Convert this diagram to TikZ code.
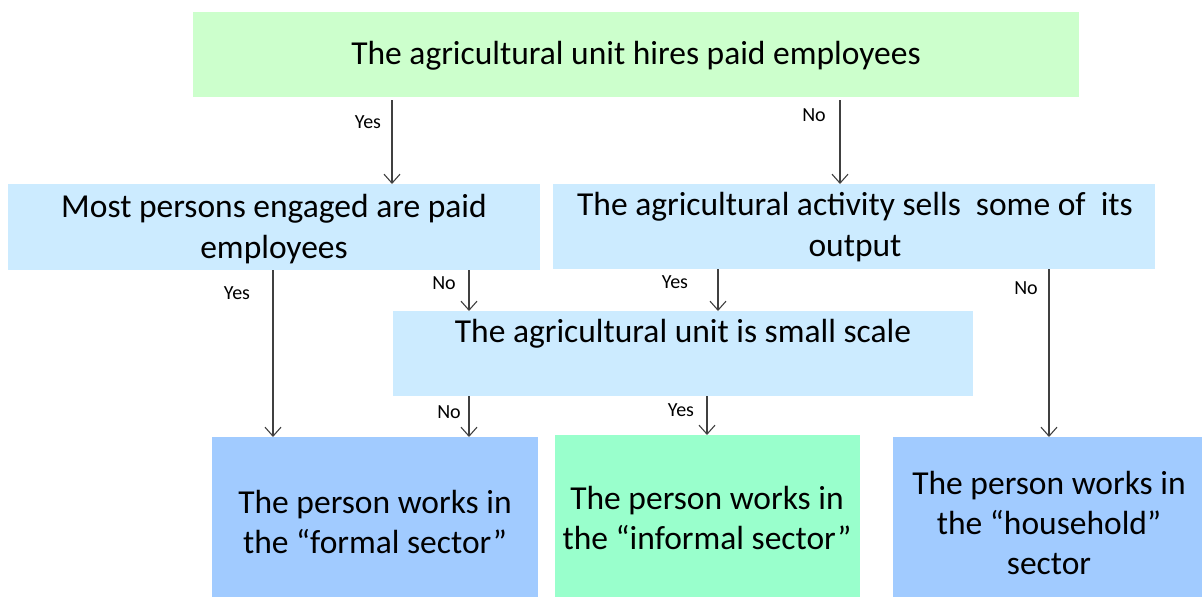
\documentclass[tikz,border=0pt]{standalone}
\usepackage{fontspec}
\setmainfont{Carlito}
\usetikzlibrary{arrows.meta}
\definecolor{topgreen}{HTML}{CCFFCC}
\definecolor{lblue}{HTML}{CCEBFF}
\definecolor{mblue}{HTML}{A1CBFF}
\definecolor{mint}{HTML}{99FFCC}
\definecolor{arrcol}{HTML}{404040}
\tikzset{
  boxbase/.style={rectangle, inner sep=0pt, anchor=north west, draw=none},
  maintext/.style={font=\fontsize{33.5}{40.3}\selectfont, align=center, inner sep=0pt},
  lbl/.style={font=\fontsize{20}{22}\selectfont, inner sep=0pt},
  arr/.style={draw=arrcol, line width=1.1pt, -{Straight Barb[length=9pt,width=16pt,line width=1.1pt]}}
}
\begin{document}
\begin{tikzpicture}[x=1pt,y=-1pt]
\useasboundingbox (0,0) rectangle (1202,597);
% boxes
\node[boxbase, fill=topgreen, minimum width=886pt, minimum height=85pt] (top) at (193,12) {};
\node[boxbase, fill=lblue, minimum width=532pt, minimum height=86pt] (most) at (8,184) {};
\node[boxbase, fill=lblue, minimum width=602pt, minimum height=85pt] (sells) at (553,184) {};
\node[boxbase, fill=lblue, minimum width=580pt, minimum height=85pt] (small) at (393,311) {};
\node[boxbase, fill=mblue, minimum width=326pt, minimum height=160pt] (formal) at (212,437) {};
\node[boxbase, fill=mint, minimum width=305pt, minimum height=162pt] (informal) at (555,435) {};
\node[boxbase, fill=mblue, minimum width=309pt, minimum height=160pt] (household) at (893,437) {};
% texts
\node[maintext] (ttop) at (636,56) {The agricultural unit hires paid employees};
\node[maintext] (tmost) at (274,229) {Most persons engaged are paid\\employees};
\node[maintext] (tsells) at (855,227) {The agricultural activity sells\ \ some of\ \ its\\output};
\node[maintext] (tsmall) at (683,334) {The agricultural unit is small scale};
\node[maintext] (tformal) at (375,522) {The person works in\\the ``formal sector''};
\node[maintext] (tinformal) at (707,518) {The person works in\\the ``informal sector''};
\node[maintext] (thouse) at (1049,523) {The person works in\\the ``household''\\sector};
% arrow anchor coordinates
\coordinate (c1) at (392,0);
\coordinate (c2) at (840,0);
\coordinate (c3) at (273,0);
\coordinate (c4) at (469,0);
\coordinate (c5) at (718,0);
\coordinate (c6) at (1049,0);
\coordinate (c7) at (707,0);
% arrows
\draw[arr] ([yshift=-3pt]top.south -| c1) -- (most.north -| c1);
\draw[arr] ([yshift=-3pt]top.south -| c2) -- (sells.north -| c2);
\draw[arr] (most.south -| c3) -- (formal.north -| c3);
\draw[arr] (most.south -| c4) -- (small.north -| c4);
\draw[arr] (sells.south -| c5) -- (small.north -| c5);
\draw[arr] (sells.south -| c6) -- (household.north -| c6);
\draw[arr] (small.south -| c4) -- (formal.north -| c4);
\draw[arr] (small.south -| c7) -- (informal.north -| c7);
% labels
\node[lbl] (l1) at (368,122) {Yes};
\node[lbl] (l2) at (814,115) {No};
\node[lbl] (l3) at (237,293) {Yes};
\node[lbl] (l4) at (444,283) {No};
\node[lbl] (l5) at (675,282) {Yes};
\node[lbl] (l6) at (1026,288) {No};
\node[lbl] (l7) at (449,412) {No};
\node[lbl] (l8) at (681,410) {Yes};
\end{tikzpicture}
\end{document}
